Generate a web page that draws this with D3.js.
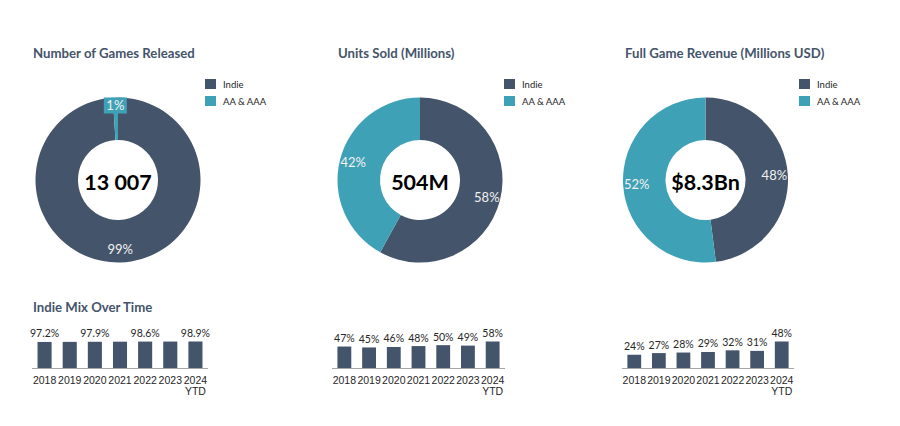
<!DOCTYPE html>
<html lang="en">
<head>
<meta charset="utf-8">
<title>Indie vs AA & AAA</title>
<script src="https://cdn.jsdelivr.net/npm/d3@7"></script>
<style>
body { margin:0; background:#fff; }
svg { display:block; font-family: Lato, "Open Sans", sans-serif; }
.title { font-size:13.2px; font-weight:700; fill:#44546a; }
.legend text { font-size:9.5px; fill:#262626; }
.center { font-size:21.5px; font-weight:700; fill:#000; }
.pct { font-size:13px; fill:#f2f2f2; }
.val { font-size:10.5px; fill:#262626; }
.year { font-size:10.5px; fill:#262626; }
</style>
</head>
<body>
<div id="chart"></div>
<script>
// ---- data ----
var donutTitles = ["Number of Games Released", "Units Sold (Millions)", "Full Game Revenue (Millions USD)"];
var donutTotals = ["13 007", "504M", "$8.3Bn"];
var seriesNames = ["Indie", "AA & AAA"];
var indieShare  = [99, 58, 48];
var aaShare     = [1, 42, 52];

var years = ["2018", "2019", "2020", "2021", "2022", "2023", "2024 YTD"];
var gamesMix   = [97.2, 97.5, 97.9, 98.2, 98.6, 98.7, 98.9];
var gamesShown = [true, false, true, false, true, false, true];
var unitsMix   = [47, 45, 46, 48, 50, 49, 58];
var revenueMix = [24, 27, 28, 29, 32, 31, 48];
var mixTitle = "Indie Mix Over Time";

(function(){
	var W = 900, H = 426;
	var colors = ["#44546a", "#3fa1b6"];
	var svg = d3.select("#chart").append("svg").attr("width", W).attr("height", H);

	// panel layout
	var panels = [
		{ tx: 33,  cx: 118,   leg: 205, bars: [32, 208],  mix: gamesMix,   fmt: function(v){ return v.toFixed(1) + "%"; }, shown: gamesShown },
		{ tx: 338, cx: 420,   leg: 504, bars: [332, 505], mix: unitsMix,   fmt: function(v){ return v + "%"; } },
		{ tx: 625, cx: 705.5, leg: 799, bars: [622, 794], mix: revenueMix, fmt: function(v){ return v + "%"; } }
	];
	var cy = 180, rOut = 82.5, rIn = 40, rLab = 69;
	var axisY = 368, barMaxH = 26.5;

	var pie = d3.pie().sort(null).value(function(d){ return d; });
	var arc = d3.arc().innerRadius(rIn).outerRadius(rOut);
	var labArc = d3.arc().innerRadius(rLab).outerRadius(rLab);

	panels.forEach(function(p, i){
		var g = svg.append("g");
		g.append("text").attr("class", "title").attr("x", p.tx).attr("y", 58).text(donutTitles[i]);

		// legend
		var lg = g.append("g").attr("class", "legend");
		seriesNames.forEach(function(n, k){
			lg.append("rect").attr("x", p.leg).attr("y", 79 + k * 17).attr("width", 11).attr("height", 10).attr("fill", colors[k]);
			lg.append("text").attr("x", p.leg + 18).attr("y", 87.5 + k * 17).text(n);
		});

		// donut
		var dg = g.append("g").attr("transform", "translate(" + p.cx + "," + cy + ")");
		var arcs = pie([indieShare[i], aaShare[i]]);
		dg.selectAll("path").data(arcs).enter().append("path")
			.attr("d", arc)
			.attr("fill", function(d, k){ return colors[k]; });
		arcs.forEach(function(d, k){
			var c = labArc.centroid(d);
			var txt = (k === 0 ? indieShare[i] : aaShare[i]) + "%";
			if (d.endAngle - d.startAngle < 0.2) {
				// tiny slice: boxed label just above the ring edge
				c = [c[0] - 0.5, -rOut + 8];
				dg.append("rect").attr("x", c[0] - 11.5).attr("y", c[1] - 8).attr("width", 23).attr("height", 16).attr("fill", colors[k]);
			}
			dg.append("text").attr("class", "pct")
				.attr("x", c[0]).attr("y", c[1]).attr("dy", "0.35em")
				.attr("text-anchor", "middle").text(txt);
		});
		dg.append("text").attr("class", "center").attr("text-anchor", "middle").attr("dy", "0.36em").attr("y", 2).text(donutTotals[i]);

		// mix bars
		var x = d3.scaleBand().domain(years).range(p.bars).paddingInner(0.44).paddingOuter(0.22);
		var y = d3.scaleLinear().domain([0, d3.max(p.mix)]).range([0, barMaxH]);
		var bg = g.append("g");
		bg.selectAll("rect").data(p.mix).enter().append("rect")
			.attr("x", function(d, k){ return x(years[k]); })
			.attr("y", function(d){ return axisY - y(d); })
			.attr("width", x.bandwidth())
			.attr("height", function(d){ return y(d); })
			.attr("fill", colors[0]);
		bg.selectAll("text.val").data(p.mix).enter().append("text")
			.attr("class", "val").attr("text-anchor", "middle")
			.attr("x", function(d, k){ return x(years[k]) + x.bandwidth() / 2; })
			.attr("y", function(d){ return axisY - y(d) - 4.5; })
			.text(function(d, k){ return (!p.shown || p.shown[k]) ? p.fmt(d) : ""; });

		var axis = d3.axisBottom(x).tickSize(0).tickPadding(9);
		var ag = bg.append("g").attr("transform", "translate(0," + axisY + ")").call(axis);
		ag.select(".domain").attr("stroke", "#a6a6a6").attr("d", "M" + p.bars[0] + ",0.5H" + p.bars[1]);
		ag.selectAll(".tick text").attr("class", "year").attr("font-family", null).attr("font-size", null)
			.attr("fill", null)
			.each(function(d){
				var parts = d.split(" "), t = d3.select(this).text(null);
				parts.forEach(function(s, j){
					t.append("tspan").attr("x", 0).attr("dy", j === 0 ? "0.71em" : "1.0em").text(s);
				});
			});
	});

	svg.append("text").attr("class", "title").attr("x", 33).attr("y", 312).text(mixTitle);
})();
</script>
</body>
</html>
